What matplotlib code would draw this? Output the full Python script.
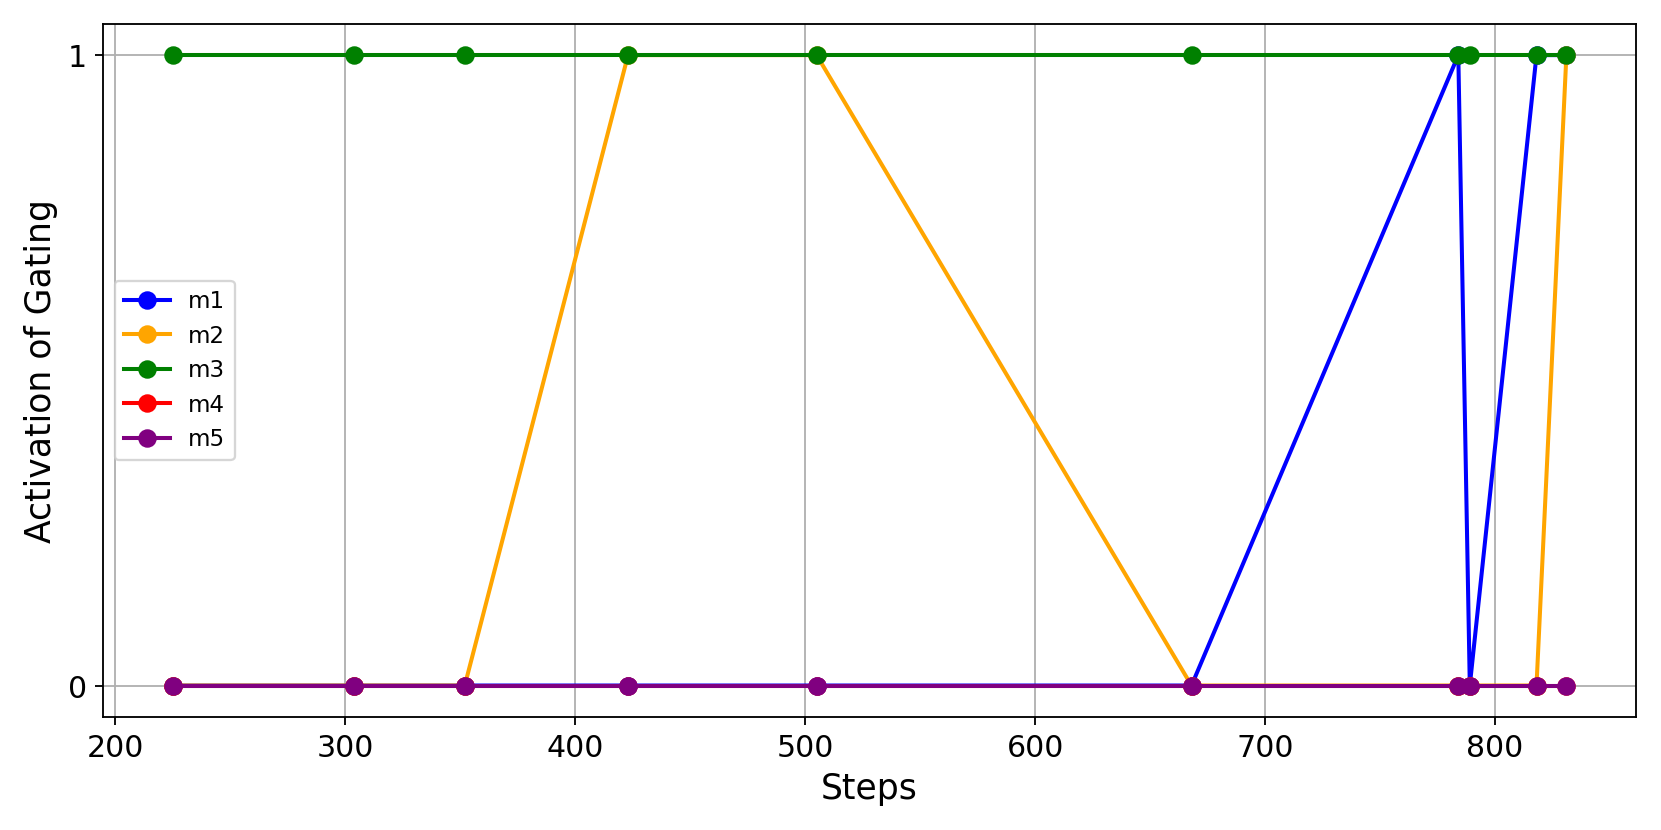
import matplotlib
matplotlib.use('Agg')
import matplotlib.pyplot as plt

# pasos y activaciones
steps = [225, 304, 352, 423, 505, 668, 784, 789, 818, 831]
m1 = [0, 0, 0, 0, 0, 0, 1, 0, 1, 1]
m2 = [0, 0, 0, 1, 1, 0, 0, 0, 0, 1]
m3 = [1, 1, 1, 1, 1, 1, 1, 1, 1, 1]
m4 = [0, 0, 0, 0, 0, 0, 0, 0, 0, 0]
m5 = [0, 0, 0, 0, 0, 0, 0, 0, 0, 0]

series = [('m1', m1, 'blue'), ('m2', m2, 'orange'), ('m3', m3, 'green'),
          ('m4', m4, 'red'), ('m5', m5, 'purple')]

fig, ax = plt.subplots(figsize=(10, 5), dpi=166.1)
for nombre, valores, color in series:
    ax.plot(steps, valores, marker='o', color=color, label=nombre,
            linewidth=1.75, markersize=7)

ax.set_yticks([0, 1])
ax.set_xlabel('Steps', fontsize=15)
ax.set_ylabel('Activation of Gating', fontsize=15)
ax.tick_params(labelsize=13)
ax.grid(True)
ax.legend(loc='center left')
plt.subplots_adjust(left=0.062, right=0.985, top=0.971, bottom=0.136)
plt.savefig('out.png')
